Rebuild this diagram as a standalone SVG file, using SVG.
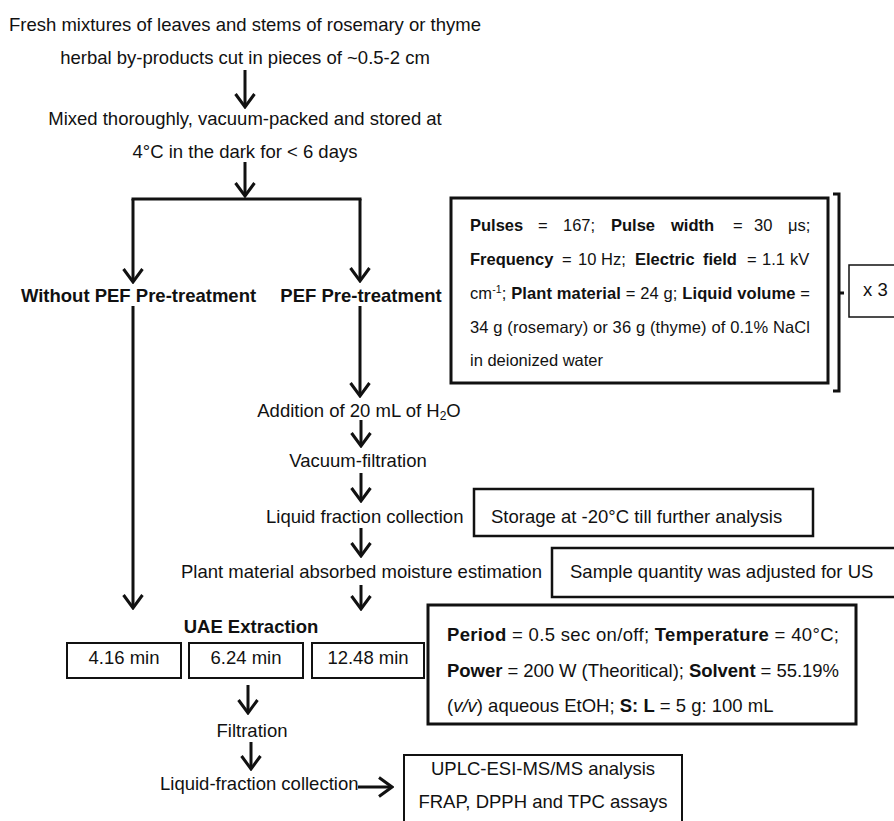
<svg xmlns="http://www.w3.org/2000/svg" width="894" height="821" viewBox="0 0 894 821">
<style>
text{font-family:"Liberation Sans",Arial,sans-serif;fill:#111;font-size:18.5px}
.b{font-weight:bold}
.s{font-size:16.5px}
.box{fill:#fff;stroke:#111}
.ln{fill:none;stroke:#111;stroke-width:3}
.ar{fill:none;stroke:#111;stroke-width:3;marker-end:url(#ah)}
</style>
<defs>
<marker id="ah" viewBox="-16 -12 18 24" refX="0" refY="0" markerWidth="18" markerHeight="24" markerUnits="userSpaceOnUse" orient="auto">
<path d="M-13,-9.5 L0,0 L-13,9.5" fill="none" stroke="#111" stroke-width="3" stroke-linejoin="miter"/>
</marker>
</defs>
<rect width="894" height="821" fill="#fff"/>

<g id="connectors">
<path class="ar" d="M245,70 V107"/>
<path class="ar" d="M245,162 V196"/>
<path class="ln" d="M131.5,199 H361.5"/>
<path class="ar" d="M133,199 V282"/>
<path class="ar" d="M360,199 V281"/>
<path class="ar" d="M133,306 V608"/>
<path class="ar" d="M360,306 V396"/>
<path class="ar" d="M361,420 V446"/>
<path class="ar" d="M361,473 V501"/>
<path class="ar" d="M361,528 V556"/>
<path class="ar" d="M361,585 V609"/>
<path class="ar" d="M248,685 V713"/>
<path class="ar" d="M251,742 V769"/>
<path class="ar" d="M358,787 H392"/>
<path class="ln" d="M833,194 H839 V391 H833 M839,293 H844" stroke-width="2.5"/>
</g>

<g id="start">
<text x="245" y="31" text-anchor="middle">Fresh mixtures of leaves and stems of rosemary or thyme</text>
<text x="245" y="64" text-anchor="middle">herbal by-products cut in pieces of ~0.5-2 cm</text>
</g>
<g id="storage-step">
<text x="245" y="125" text-anchor="middle">Mixed thoroughly, vacuum-packed and stored at</text>
<text x="245" y="158" text-anchor="middle">4°C in the dark for &lt; 6 days</text>
</g>

<g id="without-pef"><text class="b" x="138.5" y="302" text-anchor="middle">Without PEF Pre-treatment</text></g>
<g id="pef"><text class="b" x="361" y="302" text-anchor="middle">PEF Pre-treatment</text></g>

<g id="pef-params">
<rect class="box" x="451" y="198" width="377" height="185" stroke-width="3"/>
<text class="s" y="231"><tspan class="b" x="470">Pulses</tspan><tspan x="538">=</tspan><tspan x="563">167;</tspan><tspan class="b" x="611">Pulse</tspan><tspan class="b" x="671">width</tspan><tspan x="733">=</tspan><tspan x="754">30</tspan><tspan x="788">μs;</tspan></text>
<text class="s" y="265"><tspan class="b" x="470">Frequency</tspan><tspan x="562">=</tspan><tspan x="578">10</tspan><tspan x="601">Hz;</tspan><tspan class="b" x="635">Electric</tspan><tspan class="b" x="703">field</tspan><tspan x="747">=</tspan><tspan x="762">1.1</tspan><tspan x="790">kV</tspan></text>
<text class="s" x="470" y="299" textLength="340" lengthAdjust="spacing">cm<tspan font-size="10.5" dy="-6">-1</tspan><tspan dy="6">; </tspan><tspan class="b">Plant material</tspan> = 24 g; <tspan class="b">Liquid volume</tspan> =</text>
<text class="s" x="470" y="333" textLength="340" lengthAdjust="spacing">34 g (rosemary) or 36 g (thyme) of 0.1% NaCl</text>
<text class="s" x="470" y="366">in deionized water</text>
</g>

<g id="repeat">
<rect class="box" x="849" y="265" width="60" height="52" stroke-width="1.5"/>
<text x="863" y="296" font-size="18">x 3</text>
</g>

<g id="addition"><text x="359" y="417" text-anchor="middle">Addition of 20 mL of H<tspan font-size="12" dy="3">2</tspan><tspan dy="-3">O</tspan></text></g>
<g id="vacuum"><text x="358" y="467" text-anchor="middle">Vacuum-filtration</text></g>
<g id="liquid"><text x="266" y="523">Liquid fraction collection</text></g>
<g id="storage-note">
<rect class="box" x="474" y="489" width="339" height="47" stroke-width="2.5"/>
<text x="491" y="523">Storage at -20°C till further analysis</text>
</g>
<g id="moisture"><text x="181" y="578">Plant material absorbed moisture estimation</text></g>
<g id="sample-note">
<rect class="box" x="552" y="548" width="360" height="49" stroke-width="2.5"/>
<text x="570" y="578">Sample quantity was adjusted for US</text>
</g>

<g id="uae">
<text class="b" x="251" y="633" text-anchor="middle">UAE Extraction</text>
</g>
<g id="t1"><rect class="box" x="67" y="643" width="114" height="35" stroke-width="2"/><text x="124" y="664" text-anchor="middle">4.16 min</text></g>
<g id="t2"><rect class="box" x="189" y="643" width="114" height="35" stroke-width="2"/><text x="246" y="664" text-anchor="middle">6.24 min</text></g>
<g id="t3"><rect class="box" x="312" y="643" width="112" height="35" stroke-width="2"/><text x="368" y="664" text-anchor="middle">12.48 min</text></g>

<g id="uae-params">
<rect class="box" x="428" y="605" width="428" height="119" stroke-width="3"/>
<text x="447" y="641" textLength="392" lengthAdjust="spacing"><tspan class="b">Period</tspan> = 0.5 sec on/off; <tspan class="b">Temperature</tspan> = 40°C;</text>
<text x="447" y="677" textLength="392" lengthAdjust="spacing"><tspan class="b">Power</tspan> = 200 W (Theoritical); <tspan class="b">Solvent</tspan> = 55.19%</text>
<text x="447" y="712">(<tspan font-style="italic">v/v</tspan>) aqueous EtOH; <tspan class="b">S:</tspan> <tspan class="b">L</tspan> = 5 g: 100 mL</text>
</g>

<g id="filtration"><text x="252" y="737" text-anchor="middle">Filtration</text></g>
<g id="liquid2"><text x="160" y="790">Liquid-fraction collection</text></g>
<g id="analysis">
<rect class="box" x="404" y="755" width="278" height="80" stroke-width="2"/>
<text x="543" y="775" text-anchor="middle">UPLC-ESI-MS/MS analysis</text>
<text x="543" y="808" text-anchor="middle">FRAP, DPPH and TPC assays</text>
</g>
</svg>
